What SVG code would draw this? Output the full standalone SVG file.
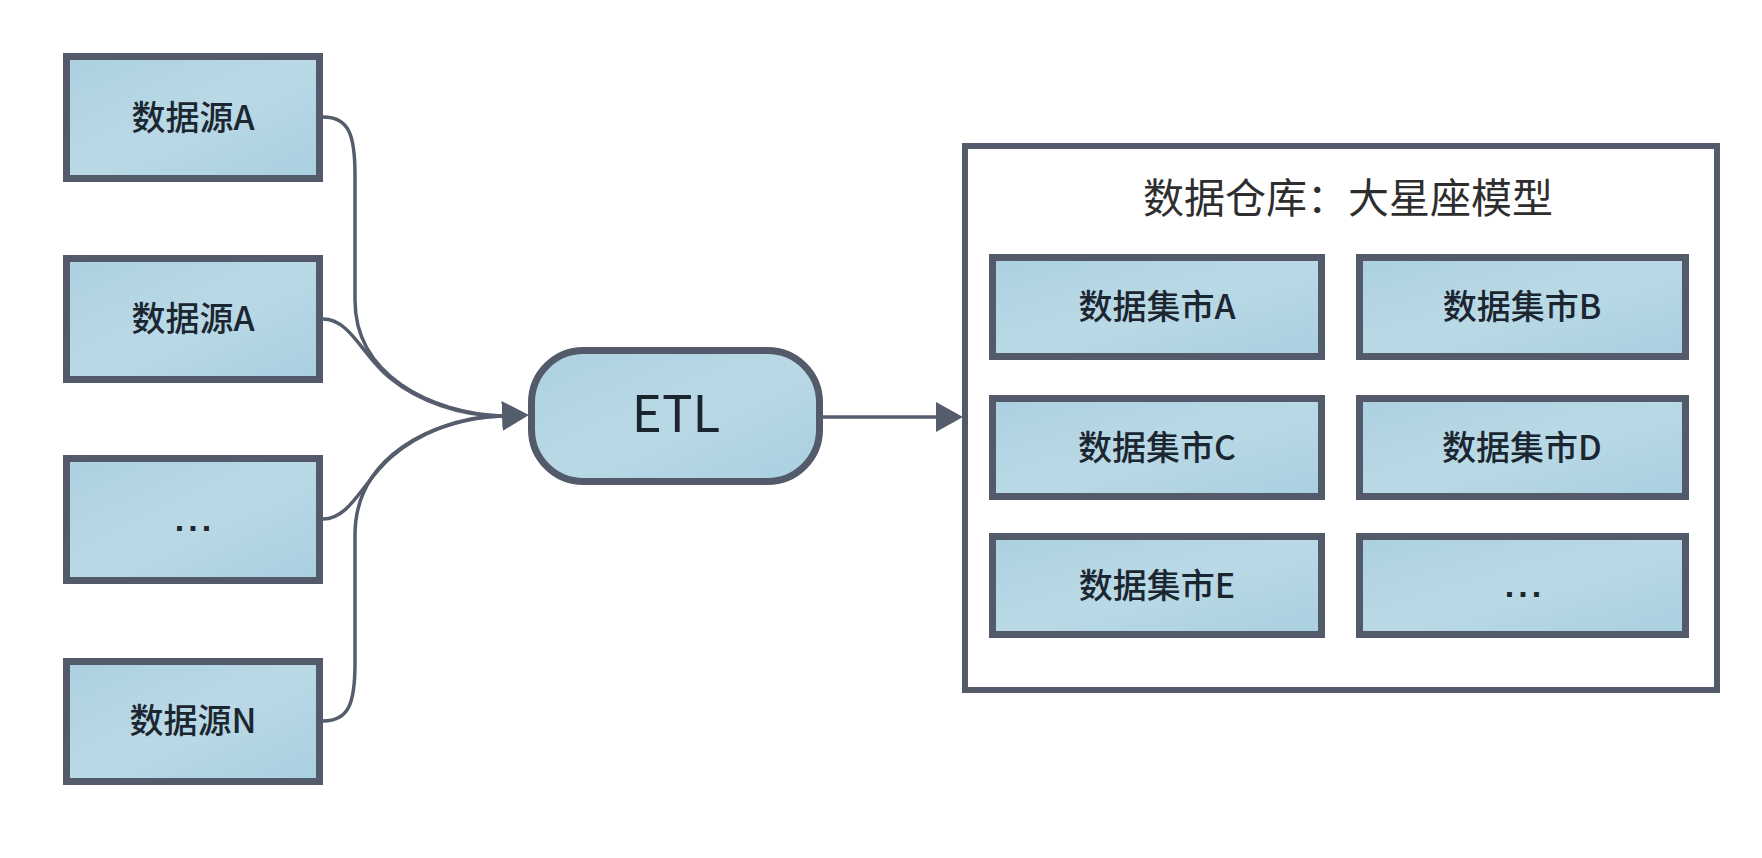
<svg xmlns="http://www.w3.org/2000/svg" width="1762" height="858" viewBox="0 0 1762 858">
<defs>
<linearGradient id="fill" x1="0" y1="0" x2="1" y2="1">
<stop offset="0" stop-color="#acd0e0"/>
<stop offset="0.5" stop-color="#bad9e6"/>
<stop offset="1" stop-color="#a9cfdf"/>
</linearGradient>
<marker id="arr" markerUnits="userSpaceOnUse" markerWidth="27" markerHeight="30" refX="0" refY="15" orient="auto">
<path d="M0,0 L27,15 L0,30 z" fill="#555d6d"/>
</marker>
<style>
.box{fill:url(#fill);stroke:#535b6b;stroke-width:7}
.lbl{font-family:"Noto Sans CJK SC","Liberation Sans",sans-serif;font-size:34px;font-weight:500;fill:#1b2630;text-anchor:middle}
.dots{font-family:"Liberation Sans",sans-serif;font-size:34px;font-weight:bold;fill:#1b2630;text-anchor:middle;letter-spacing:4px}
.con{fill:none;stroke:#555d6d;stroke-width:3.5}
</style>
</defs>
<rect width="1762" height="858" fill="#ffffff"/>
<g id="connectors">
<path class="con" d="M323,117 C349,117 355,135 355,175 L355,300 C355,375 430,413 502,416"/>
<path class="con" d="M323,319 C350,319 362,355 390,378 C418,401 460,416 502,416"/>
<path class="con" d="M323,519 C350,519 362,483 390,458 C418,433 460,416 502,416"/>
<path class="con" d="M323,721 C349,721 355,703 355,663 L355,535 C355,458 430,419 502,416" marker-end="url(#arr)"/>
<path class="con" d="M823,417 L936,417" marker-end="url(#arr)"/>
</g>
<g id="src-a">
<rect class="box" x="66.5" y="56.5" width="253" height="122"/>
<text class="lbl" x="193" y="130">数据源A</text>
</g>
<g id="src-a2">
<rect class="box" x="66.5" y="258.5" width="253" height="121"/>
<text class="lbl" x="193" y="331">数据源A</text>
</g>
<g id="src-more">
<rect class="box" x="66.5" y="458.5" width="253" height="122"/>
<text class="dots" x="195" y="531">...</text>
</g>
<g id="src-n">
<rect class="box" x="66.5" y="661.5" width="253" height="120"/>
<text class="lbl" x="193" y="733">数据源N</text>
</g>
<g id="etl">
<rect class="box" x="531.5" y="350.5" width="288" height="131" rx="52" ry="52"/>
<text x="676" y="432" font-family="'Noto Sans CJK SC','Liberation Sans',sans-serif" font-size="51" fill="#1a2530" text-anchor="middle">ETL</text>
</g>
<g id="warehouse">
<rect x="965" y="146" width="752" height="544" fill="#ffffff" stroke="#535b6b" stroke-width="6"/>
<text x="1348" y="213" font-family="'Noto Sans CJK SC',sans-serif" font-size="41" fill="#2e2e2e" text-anchor="middle">数据仓库：大星座模型</text>
</g>
<g id="mart-a">
<rect class="box" x="992.5" y="257.5" width="329" height="99"/>
<text class="lbl" x="1157" y="319">数据集市A</text>
</g>
<g id="mart-b">
<rect class="box" x="1359.5" y="257.5" width="326" height="99"/>
<text class="lbl" x="1522" y="319">数据集市B</text>
</g>
<g id="mart-c">
<rect class="box" x="992.5" y="398.5" width="329" height="98"/>
<text class="lbl" x="1157" y="460">数据集市C</text>
</g>
<g id="mart-d">
<rect class="box" x="1359.5" y="398.5" width="326" height="98"/>
<text class="lbl" x="1522" y="460">数据集市D</text>
</g>
<g id="mart-e">
<rect class="box" x="992.5" y="536.5" width="329" height="98"/>
<text class="lbl" x="1157" y="598">数据集市E</text>
</g>
<g id="mart-more">
<rect class="box" x="1359.5" y="536.5" width="326" height="98"/>
<text class="dots" x="1525" y="597">...</text>
</g>
</svg>
